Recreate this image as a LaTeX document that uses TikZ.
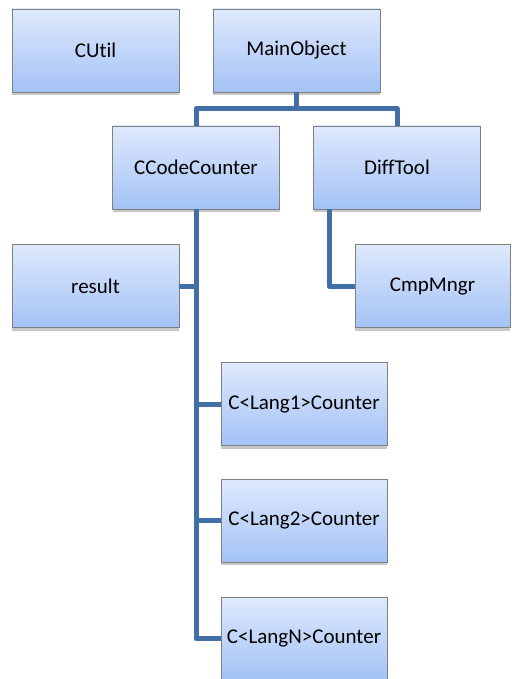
\documentclass[tikz,border=0pt]{standalone}
\usepackage{fontspec}
\setmainfont{Carlito}[Ligatures=NoCommon]
\usetikzlibrary{shadows}
\definecolor{boxtop}{RGB}{222,233,252}
\definecolor{boxbot}{RGB}{164,194,246}
\definecolor{boxline}{RGB}{128,128,128}
\definecolor{linkblue}{RGB}{66,112,166}
\tikzset{
  orgbox/.style={rectangle, draw=boxline, line width=0.9pt, top color=boxtop, bottom color=boxbot,
    minimum width=167pt, minimum height=83pt, inner sep=0pt, font=\fontsize{21}{25}\selectfont,
    drop shadow={shadow xshift=0pt, shadow yshift=-3pt, opacity=0.22, fill=black}},
  link/.style={draw=linkblue, line width=5pt, line join=round}
}
\begin{document}
\begin{tikzpicture}[x=1pt,y=-1pt]
\useasboundingbox (0,0) rectangle (511,679);
\clip (0,0) rectangle (511,679);
\node[orgbox] (cutil) at (95.5,50.5) {CUtil};
\node[orgbox] (main) at (296.5,50.5) {MainObject};
\node[orgbox] (ccc) at (196,167.5) {CCodeCounter};
\node[orgbox] (diff) at (397,167.5) {DiffTool};
\node[orgbox] (result) at (95.5,286) {result};
\node[orgbox, minimum width=155pt] (cmp) at (432.5,286) {CmpMngr};
\node[orgbox, minimum width=166pt] (l1) at (304,404) {C<Lang1>Counter};
\node[orgbox, minimum width=166pt] (l2) at (304,520.5) {C<Lang2>Counter};
\node[orgbox, minimum width=166pt] (ln) at (304,638.5) {C<LangN>Counter};
\coordinate (mainjoin) at ([yshift=-16pt]main.south);
\draw[link] (main.south) -- (mainjoin) -| (ccc.north);
\draw[link] (mainjoin) -| (diff.north);
\draw[link] (ccc.south) |- (result.east);
\draw[link] (ccc.south) |- (l1.west);
\draw[link] (ccc.south) |- (l2.west);
\draw[link] (ccc.south) |- (ln.west);
\coordinate (difftap) at ([xshift=16pt]diff.south west);
\draw[link] (difftap) |- (cmp.west);
\end{tikzpicture}
\end{document}
